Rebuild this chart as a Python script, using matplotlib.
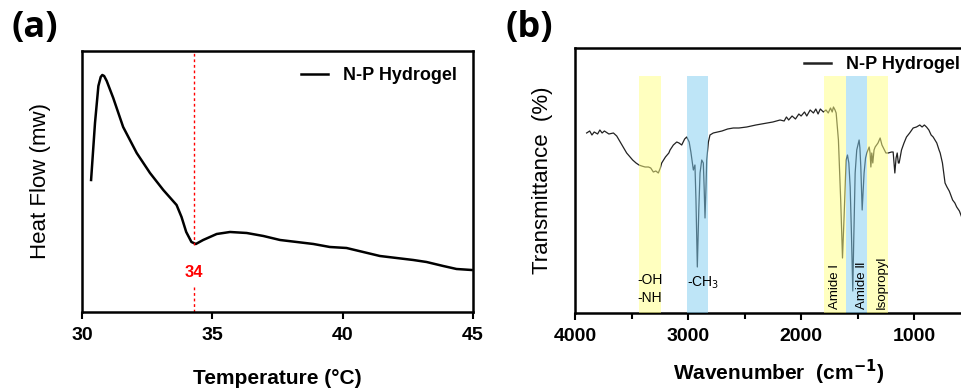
import numpy as np
import matplotlib
matplotlib.use("Agg")
import matplotlib.pyplot as plt

plt.rcParams['font.family'] = ['Liberation Sans', 'DejaVu Sans']

# (a) DSC curve, heat flow in arbitrary units
temp = [30.35, 30.5, 30.63, 30.72, 30.78, 30.85, 30.95, 31.2, 31.58, 32.1, 32.61, 33.12, 33.63,
        33.82, 34.0, 34.2, 34.37, 34.65, 35.17, 35.68, 36.32, 36.96, 37.6, 38.24,
        38.88, 39.51, 40.15, 40.79, 41.43, 42.07, 42.71, 43.22, 43.86, 44.37, 44.95]
heat_flow = [13.2, 18.9, 22.6, 23.5, 23.7, 23.6, 23.1, 21.4, 18.5, 15.9, 13.9, 12.2, 10.7,
             9.5, 8.0, 7.0, 6.8, 7.2, 7.8, 8.0, 7.9, 7.6, 7.2, 7.0,
             6.8, 6.5, 6.4, 6.0, 5.6, 5.4, 5.2, 5.0, 4.6, 4.3, 4.2]
lcst = 34.3
lcst_label = "34"

# (b) FTIR spectrum, transmittance in arbitrary units
wavenumber = [3897, 3870, 3850, 3830, 3800, 3780, 3760, 3740, 3700, 3660, 3631, 3600,
              3580, 3543, 3520, 3490, 3460, 3434, 3410, 3380, 3350, 3330, 3307, 3285,
              3263, 3245, 3233, 3200, 3170, 3159, 3130, 3100, 3080, 3056, 3030, 3012,
              2990, 2975, 2953, 2939, 2930, 2918, 2905, 2894, 2879, 2865, 2857, 2850,
              2842, 2835, 2820, 2806, 2777, 2700, 2650, 2600, 2550, 2481, 2440, 2400,
              2350, 2300, 2250, 2186, 2150, 2130, 2110, 2080, 2050, 2020, 2000, 1970,
              1950, 1920, 1891, 1870, 1850, 1830, 1803, 1780, 1760, 1740, 1725, 1714,
              1700, 1690, 1670, 1650, 1634, 1620, 1602, 1590, 1578, 1566, 1555, 1543,
              1535, 1522, 1508, 1487, 1480, 1472, 1460, 1450, 1443, 1430, 1419, 1398,
              1390, 1383, 1375, 1366, 1355, 1345, 1320, 1301, 1285, 1272, 1250, 1230,
              1200, 1186, 1171, 1160, 1150, 1140, 1133, 1112, 1090, 1068, 1040, 1009,
              980, 950, 930, 910, 891, 870, 850, 832, 800, 780, 770, 750,
              727, 710, 690, 683, 660, 640, 624, 600, 580, 560, 540]
transmittance = [180, 182, 178, 181, 179, 183, 180, 182, 179, 180, 177, 171,
                 167, 160, 157, 153, 150, 148, 147, 146, 146, 145, 141, 142,
                 140, 145, 150, 156, 160, 163, 168, 171, 170, 168, 174, 176,
                 171, 161, 143, 148, 113, 46, 103, 140, 153, 150, 123, 95,
                 123, 153, 171, 178, 180, 182, 184, 185, 185, 186, 187, 188,
                 189, 190, 191, 193, 192, 196, 193, 197, 194, 199, 197, 201,
                 197, 203, 200, 204, 199, 204, 201, 203, 200, 205, 201, 206,
                 203, 200, 173, 113, 55, 96, 153, 158, 150, 126, 80, 22,
                 70, 140, 163, 173, 165, 146, 103, 125, 140, 155, 160, 166,
                 160, 146, 160, 150, 163, 166, 170, 175, 168, 165, 160, 160,
                 161, 161, 140, 155, 160, 150, 150, 163, 170, 176, 180, 185,
                 186, 188, 186, 188, 186, 183, 178, 176, 170, 163, 160, 150,
                 130, 126, 122, 120, 113, 110, 106, 102, 96, 95, 91]

band_lo = [3239, 2823, 1602, 1416, 1230]
band_hi = [3434, 3009, 1797, 1602, 1416]
band_colors = ['#FFFF80', '#7FCCF0', '#FFFF80', '#7FCCF0', '#FFFF80']

fig = plt.figure(figsize=(9.62, 3.88), dpi=100)

# ---- panel (a)
ax1 = fig.add_axes([0.0852, 0.1959, 0.4064, 0.6727])
ax1.plot(temp, heat_flow, color='black', lw=1.8, label='N-P Hydrogel')
ax1.axvline(lcst, ymin=0.257, ymax=1, color='red', ls=(0, (2, 2)), lw=1)
ax1.axvline(lcst, ymin=0, ymax=0.096, color='red', ls=(0, (2, 2)), lw=1)
ax1.text(lcst, 3.9, lcst_label, color='red', fontsize=12, fontweight='bold',
         ha='center', va='center')
ax1.set_xlim(30, 45)
ax1.set_ylim(0, 26.1)
ax1.set_xticks([30, 35, 40, 45])
ax1.set_yticks([])
ax1.tick_params(axis='x', direction='out', length=5, width=1.5, labelsize=14, pad=6)
for lab in ax1.get_xticklabels():
    lab.set_fontweight('bold')
for s in ax1.spines.values():
    s.set_linewidth(1.8)
ax1.set_xlabel('Temperature (°C)', fontsize=15, fontweight='bold', labelpad=18)
ax1.set_ylabel('Heat Flow (mw)', fontsize=16, labelpad=22)
ax1.legend(loc='upper right', frameon=False, handlelength=1.5,
           prop={'weight': 'bold', 'size': 13})

# ---- panel (b)
ax2 = fig.add_axes([0.5977, 0.1933, 0.4231, 0.683])
ax2.plot(wavenumber, transmittance, color='#222222', lw=0.9, label='N-P Hydrogel')
for lo, hi, c in zip(band_lo, band_hi, band_colors):
    ax2.axvspan(lo, hi, ymin=0, ymax=0.894, color=c, alpha=0.5, lw=0, zorder=3)
ax2.text(3336, 33, '-OH', fontsize=10, ha='center', va='center', zorder=4)
ax2.text(3336, 15, '-NH', fontsize=10, ha='center', va='center', zorder=4)
ax2.text(2870, 30, '-CH$_3$', fontsize=10, ha='center', va='center', zorder=4)
ax2.text(1700, 4, 'Amide Ⅰ', fontsize=9.5, rotation=90, ha='center', va='bottom', zorder=4)
ax2.text(1460, 4, 'Amide Ⅱ', fontsize=9.5, rotation=90, ha='center', va='bottom', zorder=4)
ax2.text(1285, 4, 'Isopropyl', fontsize=9.5, rotation=90, ha='center', va='bottom', zorder=4)
ax2.set_xlim(4000, 400)
ax2.set_ylim(0, 265)
ax2.set_xticks([4000, 3000, 2000, 1000])
ax2.set_xticks([3500, 2500, 1500, 500], minor=True)
ax2.set_yticks([])
ax2.tick_params(axis='x', which='major', direction='out', length=5, width=1.5,
                labelsize=14, pad=6)
ax2.tick_params(axis='x', which='minor', direction='out', length=4, width=1.5)
for lab in ax2.get_xticklabels():
    lab.set_fontweight('bold')
for s in ax2.spines.values():
    s.set_linewidth(1.8)
ax2.set_xlabel('Wavenumber  (cm$^{\\mathbf{-1}}$)', fontsize=15, fontweight='bold', labelpad=9)
ax2.set_ylabel('Transmittance  (%)', fontsize=16, labelpad=16)
leg2 = ax2.legend(loc='upper right', bbox_to_anchor=(0.985, 1.03), frameon=False,
                  handlelength=1.5, prop={'weight': 'bold', 'size': 13})
leg2.get_lines()[0].set_linewidth(1.8)

fig.text(0.012, 0.905, '(a)', fontsize=26, fontweight='bold', family='Open Sans')
fig.text(0.525, 0.905, '(b)', fontsize=26, fontweight='bold', family='Open Sans')

fig.savefig('out.png', dpi=100)
